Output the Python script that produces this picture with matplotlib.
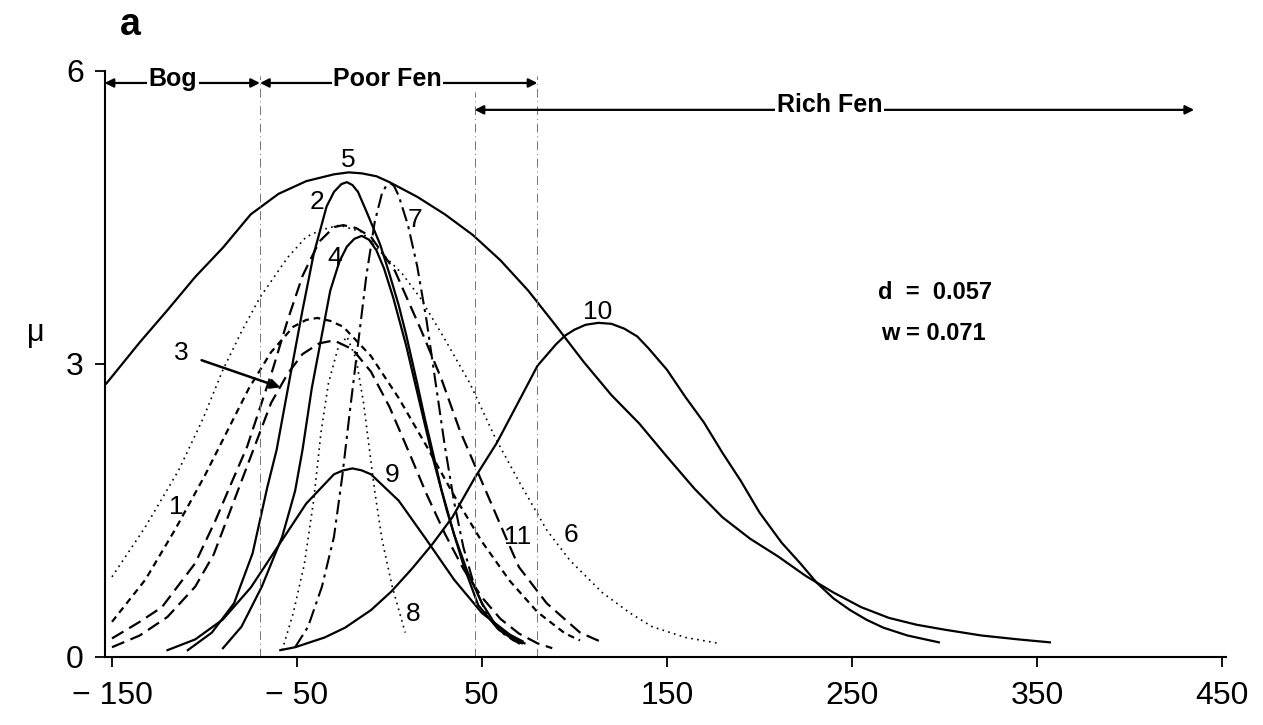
# response curves of peatland species along the bog - fen gradient (panel a)
import matplotlib
matplotlib.use("Agg")
import matplotlib.pyplot as plt

plt.rcParams["font.family"] = ["Liberation Sans", "DejaVu Sans"]

# axis ticks
X_TICKS = [-150, -50, 50, 150, 250, 350, 450]
X_TICK_LABELS = ["\u2212 150", "\u2212 50", "50", "150", "250", "350", "450"]
Y_TICKS = [0, 3, 6]

# curves (x along gradient, y = mu)
x1 = [-150, -132, -116, -100, -88, -76, -64, -52, -45, -39, -32, -25, -10, 5, 20, 35, 50, 65, 80, 95, 103]
y1 = [0.36, 0.79, 1.30, 1.85, 2.30, 2.75, 3.12, 3.38, 3.45, 3.47, 3.44, 3.38, 3.08, 2.65, 2.16, 1.65, 1.18, 0.78, 0.46, 0.24, 0.17]

x2 = [-109, -96, -84, -74, -66, -61, -54, -47, -41, -34, -30, -26, -23, -20, -17, -12, -5, 0, 5, 9, 15, 19, 24, 28, 35, 42, 50, 57, 66, 73]
y2 = [0.07, 0.25, 0.55, 1.06, 1.74, 2.12, 2.84, 3.55, 4.12, 4.61, 4.76, 4.84, 4.86, 4.83, 4.76, 4.54, 4.22, 3.92, 3.60, 3.30, 2.80, 2.45, 2.05, 1.72, 1.25, 0.88, 0.55, 0.34, 0.20, 0.14]

x3 = [-150, -135, -120, -105, -95, -88, -80, -72, -64, -55, -47, -38, -30, -20, -10, 0, 10, 20, 30, 40, 50, 60, 70, 80, 88]
y3 = [0.10, 0.22, 0.41, 0.72, 1.05, 1.40, 1.80, 2.20, 2.60, 2.90, 3.10, 3.21, 3.24, 3.15, 2.92, 2.56, 2.12, 1.67, 1.26, 0.90, 0.61, 0.39, 0.24, 0.14, 0.09]

x4 = [-90, -80, -69, -58, -51, -47, -42, -37, -32, -27, -23, -19, -15, -11, -7, -3, 2, 9, 16, 23, 31, 40, 48, 59, 70]
y4 = [0.09, 0.31, 0.72, 1.23, 1.70, 2.12, 2.75, 3.25, 3.75, 4.05, 4.20, 4.28, 4.31, 4.27, 4.16, 3.98, 3.68, 3.19, 2.63, 2.07, 1.50, 0.94, 0.53, 0.28, 0.14]

x5 = [-153, -135, -120, -105, -90, -75, -60, -45, -30, -22, -15, -7, 0, 15, 30, 45, 60, 75, 90, 105, 120,
      135, 150, 165, 180, 195, 210, 225, 240, 255, 270, 285, 300, 320, 340, 357]
y5 = [2.80, 3.22, 3.55, 3.89, 4.19, 4.53, 4.74, 4.87, 4.94, 4.96, 4.95, 4.92, 4.86, 4.71, 4.53, 4.32, 4.06, 3.75, 3.39, 3.02, 2.68,
      2.39, 2.05, 1.72, 1.43, 1.21, 1.03, 0.83, 0.66, 0.51, 0.40, 0.33, 0.28, 0.22, 0.18, 0.15]

x6 = [-150, -132, -114, -101, -90, -80, -70, -55, -45, -37, -27, -15, -3.5, 7, 16.5, 30, 43.5, 57, 70.5, 85, 97.5, 115, 130, 142, 160, 178]
y6 = [0.82, 1.33, 1.91, 2.43, 2.94, 3.33, 3.68, 4.09, 4.30, 4.37, 4.42, 4.35, 4.12, 3.92, 3.68, 3.25, 2.80, 2.25, 1.78, 1.30, 0.99, 0.66, 0.45, 0.31, 0.20, 0.14]

x7 = [-51, -44, -36.5, -30, -25.5, -21.5, -17, -12.5, -8, -4, -1.5, 0.5, 2.5, 5, 10, 15, 20, 25, 30, 35, 40, 46, 53, 60, 67, 73]
y7 = [0.10, 0.31, 0.72, 1.23, 1.85, 2.50, 3.20, 3.90, 4.45, 4.75, 4.83, 4.85, 4.82, 4.72, 4.42, 4.00, 3.45, 2.80, 2.15, 1.58, 1.12, 0.72, 0.42, 0.26, 0.17, 0.13]

x8 = [-58, -52, -46, -41, -37, -33, -28, -23, -18, -14, -11, -8, -4, 1.5, 8.5]
y8 = [0.07, 0.45, 0.95, 1.60, 2.30, 2.80, 3.15, 3.28, 3.05, 2.60, 2.15, 1.70, 1.20, 0.72, 0.25]

x9 = [-120, -105, -90, -75, -60, -45, -30, -25, -20, -15, -10, 5, 20, 35, 50, 65, 72]
y9 = [0.07, 0.18, 0.385, 0.71, 1.14, 1.57, 1.87, 1.91, 1.93, 1.91, 1.87, 1.60, 1.20, 0.79, 0.45, 0.23, 0.16]

x10 = [-59, -51, -35, -24, -10, 1, 12, 23, 34, 46, 58, 70, 80, 90, 95, 100, 106, 113, 120, 127, 134, 140, 150, 160, 170,
       180, 190, 200, 212, 222, 231, 240, 249, 258, 267, 280, 297]
y10 = [0.07, 0.10, 0.20, 0.30, 0.48, 0.67, 0.90, 1.15, 1.43, 1.83, 2.19, 2.62, 2.98, 3.20, 3.29, 3.35, 3.40, 3.42, 3.41, 3.36, 3.28, 3.16, 2.94, 2.66, 2.40,
       2.09, 1.80, 1.48, 1.17, 0.96, 0.76, 0.60, 0.48, 0.38, 0.30, 0.22, 0.15]

x11 = [-150, -135, -123, -105, -94, -85, -77, -70, -63, -55, -47, -38, -30, -25, -18, -10, 3, 17, 28, 38, 53, 63, 70, 85, 103, 115]
y11 = [0.19, 0.36, 0.51, 0.96, 1.40, 1.80, 2.15, 2.55, 2.95, 3.45, 3.90, 4.25, 4.40, 4.42, 4.39, 4.30, 3.95, 3.35, 2.85, 2.32, 1.66, 1.22, 0.92, 0.55, 0.25, 0.15]

# habitat zones: (name, start, end)
ZONE_NAMES = ["Bog", "Poor Fen", "Rich Fen"]
ZONE_START = [-154, -70, 46]
ZONE_END = [-70, 80, 435]
BOUNDARIES = [-70, 46, 80]


def main():
    fig = plt.figure(figsize=(12.63, 7.25), dpi=100)
    ax = fig.add_axes([0.0828, 0.0938, 0.8876, 0.8086])

    solid = dict(color="black", lw=1.6, ls="-")
    short_dash = dict(color="black", lw=1.6, ls=(0, (3, 2.2)))
    long_dash = dict(color="black", lw=1.6, ls=(0, (6, 3)))
    dash_dot = dict(color="black", lw=1.5, ls=(0, (7, 2.5, 1.5, 2.5)))
    dotted = dict(color="black", lw=1.2, ls=(0, (1, 2.6)))

    ax.plot(x1, y1, **short_dash)
    ax.plot(x2, y2, **solid)
    ax.plot(x3, y3, **long_dash)
    ax.plot(x4, y4, **solid)
    ax.plot(x5, y5, **solid)
    ax.plot(x6, y6, **dotted)
    ax.plot(x7, y7, **dash_dot)
    ax.plot(x8, y8, **dotted)
    ax.plot(x9, y9, **solid)
    ax.plot(x10, y10, **solid)
    ax.plot(x11, y11, **long_dash)

    # zone boundaries, faint dash-dot verticals
    tops = [5.95, 5.78, 5.95]
    for xb, top in zip(BOUNDARIES, tops):
        ax.plot([xb, xb], [0, top], color="0.45", lw=0.7, ls=(0, (9, 4, 1, 4)))

    # zone arrows with names on them
    arrow_y = [5.875, 5.875, 5.60]
    for name, a, b, yy in zip(ZONE_NAMES, ZONE_START, ZONE_END, arrow_y):
        ax.annotate("", xy=(b, yy), xytext=(a, yy),
                    arrowprops=dict(arrowstyle="<|-|>", lw=1.6, color="black",
                                    mutation_scale=13, shrinkA=0, shrinkB=0))
    ax.text(-117, 5.92, "Bog", ha="center", va="center", fontsize=18, fontweight="bold",
            bbox=dict(fc="white", ec="none", pad=1))
    ax.text(-1, 5.92, "Poor Fen", ha="center", va="center", fontsize=18, fontweight="bold",
            bbox=dict(fc="white", ec="none", pad=1))
    ax.text(238, 5.645, "Rich Fen", ha="center", va="center", fontsize=18, fontweight="bold",
            bbox=dict(fc="white", ec="none", pad=1))

    # curve numbers
    fs = 19
    ax.text(-115, 1.54, "1", ha="center", va="center", fontsize=fs)
    ax.text(-39, 4.66, "2", ha="center", va="center", fontsize=fs)
    ax.text(-29.5, 4.08, "4", ha="center", va="center", fontsize=fs)
    ax.text(-22.4, 5.09, "5", ha="center", va="center", fontsize=fs)
    ax.text(98, 1.25, "6", ha="center", va="center", fontsize=fs)
    ax.text(14, 4.47, "7", ha="center", va="center", fontsize=fs)
    ax.text(12.7, 0.44, "8", ha="center", va="center", fontsize=fs)
    ax.text(1.4, 1.86, "9", ha="center", va="center", fontsize=fs)
    ax.text(112.7, 3.53, "10", ha="center", va="center", fontsize=fs)
    ax.text(69.5, 1.23, "11", ha="center", va="center", fontsize=fs)
    ax.annotate("3", xy=(-59, 2.76), xytext=(-112.7, 3.11), ha="center", va="center", fontsize=fs,
                arrowprops=dict(arrowstyle="-|>", lw=1.8, color="black", mutation_scale=14,
                                shrinkA=8, shrinkB=0))

    ax.text(264, 3.73, "d  =  0.057", ha="left", va="center", fontsize=17, fontweight="bold")
    ax.text(266, 3.31, "w = 0.071", ha="left", va="center", fontsize=17, fontweight="bold")

    ax.set_xlim(-154, 452)
    ax.set_ylim(0, 6)
    ax.set_xticks(X_TICKS)
    ax.set_xticklabels(X_TICK_LABELS)
    ax.set_yticks(Y_TICKS)
    for side in ["top", "right"]:
        ax.spines[side].set_visible(False)
    for side in ["left", "bottom"]:
        ax.spines[side].set_linewidth(1.5)
    ax.tick_params(direction="out", length=7, width=1.3, labelsize=23)
    ax.tick_params(axis="x", pad=10)
    ax.tick_params(axis="y", pad=8)

    fig.text(0.028, 0.54, "\u03bc", ha="center", va="center", fontsize=22)
    fig.text(0.103, 0.965, "a", ha="center", va="center", fontsize=27, fontweight="bold")

    fig.savefig("out.png", dpi=100)


if __name__ == "__main__":
    main()
